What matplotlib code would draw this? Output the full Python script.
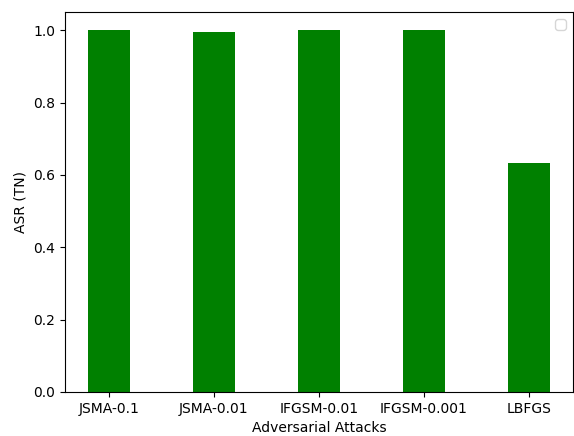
import matplotlib.pyplot as plt
import numpy as np

attacks = ['JSMA-0.1', 'JSMA-0.01', 'IFGSM-0.01', 'IFGSM-0.001', 'LBFGS']
asr = [1.0, 0.995, 1.0, 1.0, 0.632]

fig = plt.figure(figsize=(5.74, 4.36), dpi=100)
ax = fig.add_subplot(111)
fig.subplots_adjust(left=0.113, right=0.998, top=0.972, bottom=0.101)

x = np.arange(len(attacks))
ax.bar(x, asr, width=0.4, color='green')
ax.set_xticks(x)
ax.set_xticklabels(attacks)
ax.set_xlabel('Adversarial Attacks')
ax.set_ylabel('ASR (TN)')
ax.legend()

plt.savefig('out.png')
